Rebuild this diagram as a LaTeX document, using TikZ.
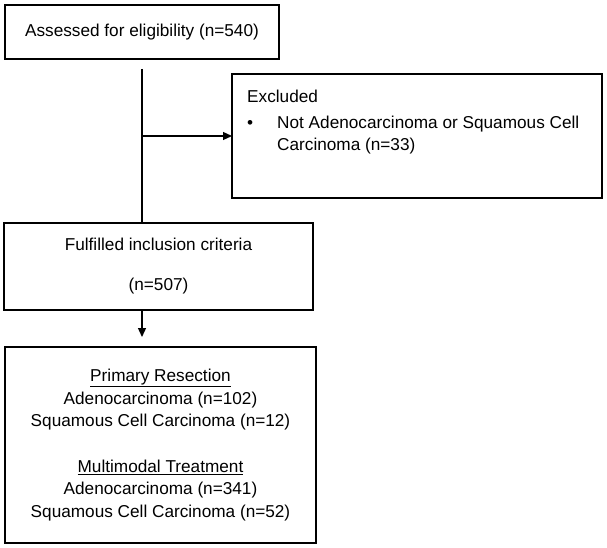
\documentclass[tikz,border=0pt]{standalone}
\usepackage{fontspec}
\setmainfont{Liberation Sans}
\usetikzlibrary{arrows.meta}

\begin{document}
\begin{tikzpicture}[x=1pt, y=-1pt,
        box/.style={draw, line width=1.2pt, inner sep=0pt, outer sep=0pt, anchor=north west,
            align=center, font=\fontsize{17.2}{22.5}\selectfont},
        arr/.style={line width=1.3pt, -{Triangle[length=9pt, width=8pt]}}]
    \useasboundingbox (0,0) rectangle (607,548);
    \node[box, minimum width=274pt, minimum height=54pt] (assessed) at (5,5)
        {Assessed for eligibility (n=540)};
    \node[box, minimum width=370pt, minimum height=124pt] (excluded) at (232,74) {};
    \node[anchor=north west, inner sep=0pt, align=left, font=\fontsize{17.2}{22}\selectfont] (reason) at (247,90)
        {Excluded\\[4pt]\makebox[30pt][l]{\textbullet}Not Adenocarcinoma or Squamous Cell\\\hspace*{30pt}Carcinoma (n=33)};
    \node[box, minimum width=309pt, minimum height=87pt] (fulfilled) at (4,223)
        {Fulfilled inclusion criteria\\[17.5pt](n=507)};
    \node[box, minimum width=311pt, minimum height=196pt] (groups) at (5,347)
        {\underline{Primary Resection}\\Adenocarcinoma (n=102)\\Squamous Cell Carcinoma (n=12)\\[23pt]
         \underline{Multimodal Treatment}\\Adenocarcinoma (n=341)\\Squamous Cell Carcinoma (n=52)};
    \draw[line width=1.3pt, shorten <=10pt] (assessed.south) -- (assessed.south |- fulfilled.north);
    \draw[arr] (assessed.south |- excluded.west) -- (excluded.west);
    \draw[arr, shorten >=10pt] (assessed.south |- fulfilled.south) -- (assessed.south |- groups.north);
\end{tikzpicture}
\end{document}
